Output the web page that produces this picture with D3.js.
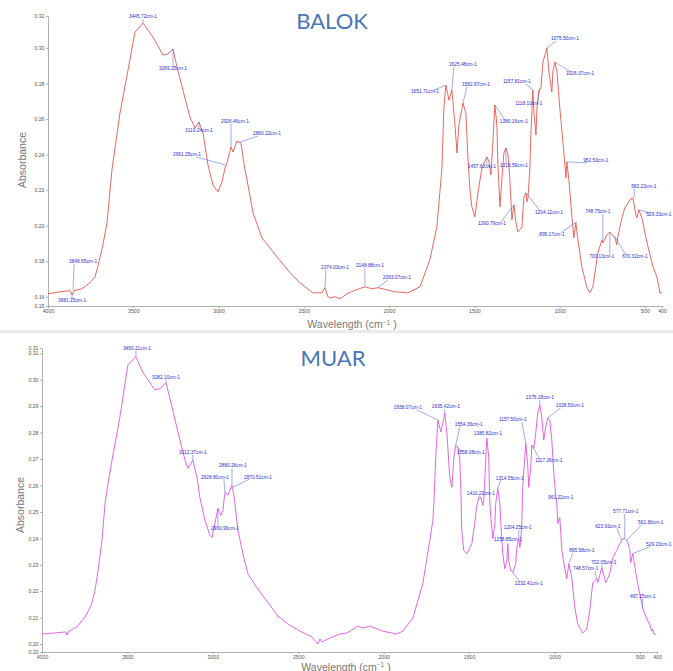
<!DOCTYPE html>
<html lang="en">
<head>
<meta charset="UTF-8">
<title>FTIR spectra: Balok vs Muar</title>
<style>
    body { margin: 0; background: #fff; }
    .axis path, .axis line { stroke: #9a9a9a; stroke-width: 0.8px; }
    .axis text { fill: #555; font-family: "Liberation Sans", Arial, sans-serif; font-size: 5.2px; }
    .axis_title { fill: #777; font-family: "Liberation Sans", Arial, sans-serif; font-size: 10.5px; }
    .chart_title { fill: #4a76b8; font-family: Lato, "Open Sans", sans-serif; font-size: 22px; }
    .peak_label { fill: #2b2bd6; font-family: "Liberation Sans", Arial, sans-serif; font-size: 4.8px; }
    .leader { stroke: #5566dd; stroke-width: 0.55px; }
</style>
</head>
<body>
<div id="chart"></div>
<script src="https://d3js.org/d3.v7.min.js"></script>
<script>
    // x ticks shared by both spectra
    var xTicks = [4000, 3500, 3000, 2500, 2000, 1500, 1000, 500, 400];

    // BALOK spectrum (wavenumber cm-1, absorbance)
    var balokWavenumber = [4000,3930,3871,3859,3848,3801,3754,3724,3707,3678,
        3654,3625,3578,3531,3490,3443,3384,3326,3297,3267,
        3244,3209,3168,3138,3115,3091,3062,3033,3003,2980,
        2962,2951,2927,2915,2892,2869,2845,2833,2798,2746,
        2658,2581,2523,2447,2394,2376,2359,2341,2318,2288,
        2247,2194,2142,2101,2066,1966,1890,1819,1761,1720,
        1690,1679,1667,1649,1632,1614,1602,1591,1567,1550,
        1538,1526,1515,1497,1479,1456,1427,1415,1403,1391,
        1380,1368,1362,1350,1339,1327,1315,1303,1292,1280,
        1268,1257,1245,1221,1210,1198,1192,1186,1175,1169,
        1157,1151,1139,1133,1122,1110,1098,1075,1063,1046,
        1040,1028,1016,999,981,969,963,958,946,928,
        917,905,893,870,840,823,805,776,752,747,
        723,706,688,676,665,659,635,618,588,571,
        553,547,536,518,489,453,430,412,400];
    var balokAbsorbance = [0.1617,0.1628,0.1634,0.1611,0.1634,0.1645,0.1679,0.1712,0.1774,0.1892,
        0.2016,0.2314,0.2634,0.2876,0.3089,0.3140,0.3061,0.2960,0.2966,0.2994,
        0.2893,0.2763,0.2612,0.2550,0.2583,0.2522,0.2342,0.2229,0.2190,0.2246,
        0.2325,0.2353,0.2443,0.2415,0.2477,0.2465,0.2314,0.2258,0.2072,0.1932,
        0.1825,0.1735,0.1679,0.1622,0.1622,0.1651,0.1600,0.1594,0.1600,0.1589,
        0.1617,0.1639,0.1656,0.1645,0.1651,0.1628,0.1622,0.1656,0.1808,0.1993,
        0.2325,0.2662,0.2791,0.2707,0.2763,0.2567,0.2409,0.2567,0.2690,0.2634,
        0.2381,0.2201,0.2106,0.2050,0.2185,0.2325,0.2387,0.2364,0.2286,0.2482,
        0.2679,0.2567,0.2342,0.2106,0.2258,0.2409,0.2437,0.2398,0.2258,0.2033,
        0.2117,0.2021,0.1965,0.1993,0.2162,0.2185,0.2134,0.2156,0.2314,0.2510,
        0.2763,0.2640,0.2510,0.2662,0.2763,0.2775,0.2921,0.3000,0.2865,0.2752,
        0.2865,0.2921,0.2865,0.2662,0.2471,0.2342,0.2269,0.2359,0.2258,0.2050,
        0.1932,0.2016,0.1920,0.1769,0.1651,0.1622,0.1656,0.1847,0.1920,0.1903,
        0.1948,0.1965,0.1943,0.1932,0.1892,0.1937,0.2044,0.2100,0.2145,0.2156,
        0.2061,0.2044,0.2089,0.2044,0.1909,0.1769,0.1712,0.1622,0.1622];
    var balokYTicks = [0.1548, 0.16, 0.18, 0.20, 0.22, 0.24, 0.26, 0.28, 0.30, 0.318];

    var balokPeakText = ["3445.72cm-1","3269.25cm-1","3119.24cm-1","2926.46cm-1","2860.22cm-1","2961.25cm-1",
        "3849.65cm-1","3881.25cm-1","2374.03cm-1","2148.88cm-1","2063.07cm-1","1651.71cm-1","1625.48cm-1",
        "1582.67cm-1","1457.62cm-1","1380.16cm-1","1318.59cm-1","1260.79cm-1","1204.12cm-1","1157.81cm-1",
        "1118.10cm-1","1075.50cm-1","1026.37cm-1","952.50cm-1","895.17cm-1","748.75cm-1","700.13cm-1",
        "670.32cm-1","582.22cm-1","529.33cm-1"];
    var balokPeakW = [3443,3267,3115,2927,2874,2962,3853,3859,2376,2142,2066,1667,1632,1567,1427,
        1380,1315,1268,1198,1157,1116,1075,1028,958,899,747,706,676,565,536];
    var balokPeakA = [0.3140,0.2994,0.2584,0.2443,0.2471,0.2342,0.1639,0.1622,0.1651,0.1656,0.1651,
        0.2791,0.2764,0.2691,0.2387,0.2679,0.2438,0.2117,0.2185,0.2764,0.2775,0.3000,0.2921,0.2359,
        0.2022,0.1920,0.1965,0.1937,0.2156,0.2089];

    // MUAR spectrum
    var muarWavenumber = [4000,3924,3860,3854,3842,3795,3748,3713,3690,3672,
        3649,3631,3620,3590,3544,3497,3450,3409,3339,3310,
        3274,3239,3193,3163,3146,3117,3093,3076,3046,3017,
        3005,2988,2970,2953,2941,2929,2912,2900,2888,2877,
        2871,2853,2824,2795,2742,2684,2619,2561,2490,2420,
        2391,2385,2373,2362,2315,2256,2215,2151,2122,2081,
        2005,1923,1888,1829,1771,1730,1712,1706,1695,1683,
        1665,1642,1630,1613,1601,1589,1578,1566,1554,1548,
        1543,1531,1513,1484,1467,1455,1443,1431,1420,1414,
        1402,1396,1385,1379,1373,1361,1349,1344,1332,1320,
        1314,1303,1291,1279,1273,1268,1256,1244,1227,1221,
        1209,1203,1197,1191,1186,1174,1168,1156,1151,1139,
        1133,1121,1110,1098,1086,1075,1063,1051,1039,1028,
        1016,1004,993,987,981,969,957,940,928,916,
        899,881,864,835,811,794,776,753,747,723,
        700,677,659,636,618,600,589,577,560,554,
        542,536,513,484,460,443,431,425,419,405];
    var muarAbsorbance = [0.2038,0.2042,0.2046,0.2034,0.2049,0.2065,0.2103,0.2144,0.2202,0.2278,
        0.2392,0.2532,0.2582,0.2696,0.2859,0.3057,0.3087,0.3027,0.2962,0.2966,
        0.2989,0.2897,0.2772,0.2696,0.2665,0.2696,0.2631,0.2555,0.2468,0.2411,
        0.2403,0.2456,0.2513,0.2487,0.2506,0.2574,0.2563,0.2582,0.2601,0.2563,
        0.2532,0.2430,0.2342,0.2266,0.2213,0.2163,0.2106,0.2076,0.2049,0.2027,
        0.2004,0.2000,0.2019,0.2008,0.2023,0.2038,0.2042,0.2068,0.2061,0.2068,
        0.2049,0.2038,0.2049,0.2099,0.2228,0.2392,0.2468,0.2532,0.2707,0.2848,
        0.2802,0.2874,0.2798,0.2631,0.2593,0.2707,0.2753,0.2745,0.2696,0.2582,
        0.2430,0.2354,0.2342,0.2380,0.2456,0.2525,0.2551,0.2555,0.2525,0.2544,
        0.2707,0.2779,0.2707,0.2544,0.2479,0.2399,0.2456,0.2532,0.2589,0.2532,
        0.2456,0.2342,0.2285,0.2316,0.2380,0.2316,0.2278,0.2270,0.2304,0.2365,
        0.2399,0.2365,0.2392,0.2468,0.2593,0.2707,0.2760,0.2669,0.2593,0.2669,
        0.2753,0.2741,0.2798,0.2874,0.2905,0.2859,0.2772,0.2821,0.2856,0.2848,
        0.2772,0.2646,0.2563,0.2536,0.2456,0.2479,0.2354,0.2285,0.2247,0.2304,
        0.2251,0.2137,0.2076,0.2042,0.2057,0.2125,0.2232,0.2247,0.2232,0.2289,
        0.2232,0.2266,0.2327,0.2354,0.2380,0.2399,0.2399,0.2392,0.2361,0.2308,
        0.2342,0.2316,0.2228,0.2137,0.2095,0.2076,0.2049,0.2057,0.2038,0.2038];
    var muarYTicks = [0.197, 0.20, 0.21, 0.22, 0.23, 0.24, 0.25, 0.26, 0.27, 0.28, 0.29, 0.30, 0.31, 0.312];

    var muarPeakText = ["3450.21cm-1","3282.10cm-1","3112.37cm-1","2928.80cm-1","2880.26cm-1","2870.51cm-1",
        "2960.96cm-1","1658.07cm-1","1635.42cm-1","1554.36cm-1","1558.08cm-1","1380.82cm-1","1410.22cm-1",
        "1314.55cm-1","1258.85cm-1","1204.25cm-1","1232.41cm-1","1157.50cm-1","1117.26cm-1","1075.28cm-1",
        "1028.50cm-1","961.22cm-1","895.58cm-1","748.57cm-1","702.05cm-1","623.93cm-1","577.71cm-1",
        "561.80cm-1","529.23cm-1","467.25cm-1"];
    var muarPeakW = [3450,3274,3117,2929,2888,2882,2970,1683,1642,1578,1572,1396,1443,1332,1273,
        1209,1244,1168,1127,1086,1039,987,916,753,723,606,589,577,542,484];
    var muarPeakA = [0.3087,0.2989,0.2696,0.2574,0.2601,0.2593,0.2513,0.2848,0.2874,0.2753,0.2745,
        0.2779,0.2551,0.2589,0.2380,0.2399,0.2270,0.2760,0.2745,0.2905,0.2856,0.2544,0.2304,0.2247,
        0.2289,0.2392,0.2399,0.2392,0.2342,0.2137];

    // label text offsets from the peak, in px (layout only)
    var balokLabelDx = [0,0,0,4,27,-38,10,0,10,5,19,-21,11,13,-5,19,8,-22,23,-16,-11,18,25,29,-25,-5,-8,20,10,20];
    var balokLabelDy = [-6,20,9,-25,-8,-10,-28,8,-20,-21,-10,7,-25,-18,10,17,18,19,20,-8,16,-9,12,-1,13,-28,25,20,-11,5];
    var muarLabelDx = [1,0,0,-10,1,25,7,-30,1,13,14,1,2,12,0,-1,16,-13,16,0,22,4,13,-11,2,-14,1,24,26,0];
    var muarLabelDy = [-8,-5,-7,-15,-19,-10,20,-12,-6,-20,6,-4,-5,-10,-4,-11,11,-23,14,-7,-12,-3,-13,-10,-5,-14,-27,-18,-9,-11];

    var svg = d3.select("#chart").append("svg")
        .attr("width", 673)
        .attr("height", 671);

    svg.append("rect").attr("width", 673).attr("height", 671).attr("fill", "#fff");
    // faint seam between the two screenshots
    svg.append("rect").attr("x", 0).attr("y", 330).attr("width", 673).attr("height", 3).attr("fill", "#ececec");

    function drawSpectrum(opt) {
        var x = d3.scaleLinear().domain([4000, 400]).range([opt.left, opt.right]);
        var y = d3.scaleLinear().domain([opt.yTicks[0], opt.yTicks[opt.yTicks.length - 1]]).range([opt.bottom, opt.top]);

        var g = svg.append("g");

        // axes
        g.append("g")
            .attr("class", "axis")
            .attr("transform", "translate(" + opt.left + ",0)")
            .call(d3.axisLeft(y).tickValues(opt.yTicks).tickSize(2).tickSizeOuter(0).tickPadding(1.5)
                .tickFormat(d3.format(".2f")));

        g.append("g")
            .attr("class", "axis")
            .attr("transform", "translate(0," + opt.bottom + ")")
            .call(d3.axisBottom(x).tickValues(xTicks).tickSize(2).tickSizeOuter(0).tickPadding(1.5)
                .tickFormat(d3.format("d")));

        // spectrum line
        var pts = opt.w.map(function(d, i) { return [d, opt.a[i]]; });
        var line = d3.line()
            .x(function(d) { return x(d[0]); })
            .y(function(d) { return y(d[1]); });
        g.append("path")
            .datum(pts)
            .attr("d", line)
            .attr("fill", "none")
            .attr("stroke", opt.color)
            .attr("stroke-width", 0.9)
            .attr("stroke-linejoin", "round");

        // peak labels with leader lines
        opt.peakText.forEach(function(t, i) {
            var px = x(opt.peakW[i]), py = y(opt.peakA[i]);
            var tx = px + opt.dx[i], ty = py + opt.dy[i];
            var ex = tx - Math.sign(opt.dx[i]) * Math.min(Math.abs(opt.dx[i]), 9);
            var ey = ty + (opt.dy[i] < 0 ? 2 : -2);
            if (Math.abs(opt.dy[i]) > 4 || Math.abs(opt.dx[i]) > 3) {
                g.append("line").attr("class", "leader")
                    .attr("x1", px).attr("y1", py).attr("x2", ex).attr("y2", ey);
            }
            g.append("text").attr("class", "peak_label")
                .attr("x", tx).attr("y", ty)
                .attr("text-anchor", "middle")
                .attr("dominant-baseline", "middle")
                .text(t);
        });

        // titles
        g.append("text").attr("class", "chart_title")
            .attr("x", opt.titleX).attr("y", opt.titleY)
            .attr("text-anchor", "middle")
            .text(opt.title);

        g.append("text").attr("class", "axis_title")
            .attr("transform", "translate(" + opt.yLabelX + "," + opt.yLabelY + ") rotate(-90)")
            .attr("text-anchor", "middle")
            .text("Absorbance");

        var xl = g.append("text").attr("class", "axis_title")
            .attr("x", opt.xLabelX).attr("y", opt.xLabelY)
            .attr("text-anchor", "middle");
        xl.append("tspan").text("Wavelength (cm");
        xl.append("tspan").attr("dy", -3.5).attr("font-size", "6.5px").text("−1");
        xl.append("tspan").attr("dy", 3.5).text(" )");
    }

    drawSpectrum({
        w: balokWavenumber, a: balokAbsorbance, yTicks: balokYTicks,
        peakText: balokPeakText, peakW: balokPeakW, peakA: balokPeakA,
        dx: balokLabelDx, dy: balokLabelDy,
        left: 48, right: 662, top: 16, bottom: 306,
        color: "#e5574f", title: "BALOK", titleX: 332, titleY: 29,
        yLabelX: 26, yLabelY: 160, xLabelX: 352, xLabelY: 328
    });

    drawSpectrum({
        w: muarWavenumber, a: muarAbsorbance, yTicks: muarYTicks,
        peakText: muarPeakText, peakW: muarPeakW, peakA: muarPeakA,
        dx: muarLabelDx, dy: muarLabelDy,
        left: 42, right: 657, top: 348, bottom: 652,
        color: "#e055e0", title: "MUAR", titleX: 333, titleY: 366,
        yLabelX: 24, yLabelY: 505, xLabelX: 346, xLabelY: 670.5
    });
</script>
</body>
</html>
